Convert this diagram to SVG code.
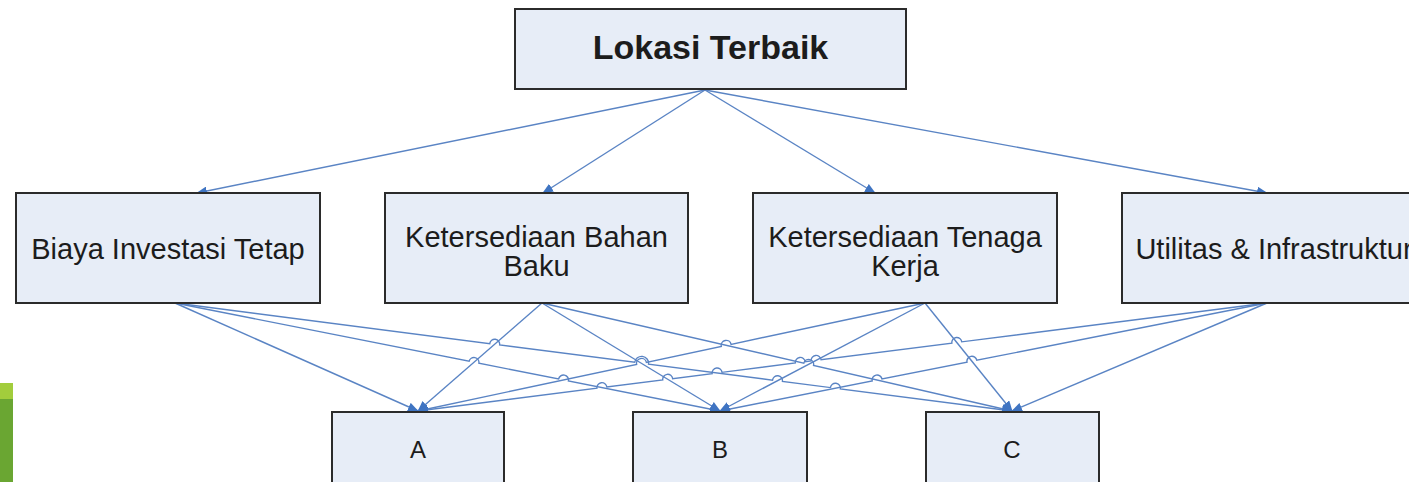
<svg xmlns="http://www.w3.org/2000/svg" width="1409" height="482" viewBox="0 0 1409 482">
<style>
.box{fill:#e7edf7;stroke:#2b2b2b;stroke-width:2}
.t{font-family:"Liberation Sans",Arial,sans-serif;fill:#1c1c1c;text-anchor:middle}
.lbl{font-size:29px}
.conn{fill:none;stroke:#5a84c4;stroke-width:1.4}
</style>
<defs>
<marker id="arr" markerUnits="userSpaceOnUse" markerWidth="11" markerHeight="9" refX="10" refY="4.5" orient="auto">
<path d="M0,0 L11,4.5 L0,9 z" fill="#3f74c2"/>
</marker>
</defs>
<rect x="0" y="383" width="13" height="16" fill="#a2cd3c"/>
<rect x="0" y="399" width="13" height="83" fill="#6aa632"/>
<g id="connectors" class="conn" marker-end="url(#arr)">
<path d="M705,90 L197,193"/>
<path d="M705,90 L543,193"/>
<path d="M705,90 L875,193"/>
<path d="M705,90 L1267,193"/>
<path d="M175,303 L418,411"/>
<path d="M175,303 L469.1,361.3 A5,5 0 0 1 478.9,363.2 L558.6,379.0 A5,5 0 0 1 568.4,381.0 L720,411"/>
<path d="M175,303 L489.74,343.61 A5,5 0 0 1 499.66,344.89 L634.66,362.31 A7,7 0 0 1 648.54,364.11 L772.54,380.10 A5,5 0 0 1 782.46,381.38 L830.44,387.57 A5,5 0 0 1 840.36,388.85 L1012,411"/>
<path d="M542,303 L418,411"/>
<path d="M542,303 L720,411"/>
<path d="M542,303 L803.83,363.16 A5,5 0 0 1 813.57,365.40 L1012,411"/>
<path d="M925,303 L731.09,344.31 A5,5 0 0 0 721.31,346.39 L646.39,362.35 A5,5 0 0 0 636.61,364.43 L418,411"/>
<path d="M925,303 L720,411"/>
<path d="M925,303 L1012,411"/>
<path d="M1267,303 L961.76,341.83 A5,5 0 0 0 951.84,343.09 L821.06,359.73 A5,5 0 0 0 811.14,360.99 L805.26,361.74 A5,5 0 0 0 795.34,363.00 L722.06,372.32 A5,5 0 0 0 712.14,373.58 L672.66,378.61 A5,5 0 0 0 662.74,379.87 L606.86,386.98 A5,5 0 0 0 596.94,388.24 L418,411"/>
<path d="M1267,303 L976.81,360.29 A5,5 0 0 0 967.00,362.23 L882.01,379.01 A5,5 0 0 0 872.20,380.95 L720,411"/>
<path d="M1267,303 L1012,411"/>
</g>
<g id="lokasi-terbaik">
<rect class="box" x="515" y="9" width="391" height="80"/>
<text class="t" x="710.5" y="59" font-size="34" font-weight="bold">Lokasi Terbaik</text>
</g>
<g id="biaya-investasi">
<rect class="box" x="16" y="193" width="304" height="110"/>
<text class="t lbl" x="168" y="259">Biaya Investasi Tetap</text>
</g>
<g id="bahan-baku">
<rect class="box" x="385" y="193" width="303" height="110"/>
<text class="t lbl" x="536.5" y="247">Ketersediaan Bahan</text>
<text class="t lbl" x="536.5" y="276">Baku</text>
</g>
<g id="tenaga-kerja">
<rect class="box" x="753" y="193" width="304" height="110"/>
<text class="t lbl" x="905" y="247">Ketersediaan Tenaga</text>
<text class="t lbl" x="905" y="276">Kerja</text>
</g>
<g id="utilitas">
<rect class="box" x="1122" y="193" width="310" height="110"/>
<text class="t lbl" x="1274" y="259">Utilitas &amp; Infrastruktur</text>
</g>
<g id="alt-a">
<rect class="box" x="332" y="412" width="172" height="100"/>
<text class="t" x="418" y="458" font-size="24">A</text>
</g>
<g id="alt-b">
<rect class="box" x="633" y="412" width="174" height="100"/>
<text class="t" x="720" y="458" font-size="24">B</text>
</g>
<g id="alt-c">
<rect class="box" x="926" y="412" width="173" height="100"/>
<text class="t" x="1012" y="458" font-size="24">C</text>
</g>
</svg>
